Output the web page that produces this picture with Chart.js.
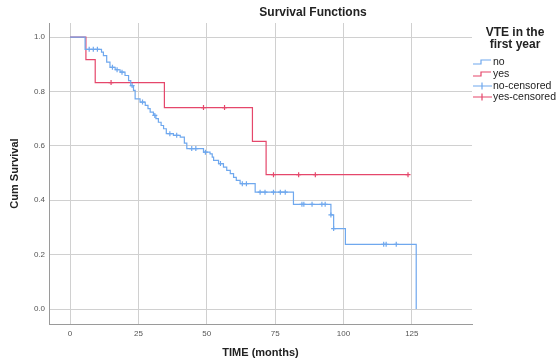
<!DOCTYPE html>
<html lang="en">
<head>
<meta charset="UTF-8">
<title>Survival Functions</title>
<style>
  body { margin: 0; background: #fff; }
  .chart-box { width: 557px; height: 363px; position: relative; }
</style>
</head>
<body>
<div class="chart-box"><canvas id="survChart"></canvas></div>
<script src="https://cdn.jsdelivr.net/npm/chart.js"></script>
<script>
// Kaplan-Meier steps: event time (months) and survival after that event
const noTime = [0, 5.5, 11.5, 12.2, 13.4, 14.6, 16.5, 18.3, 20.1, 21.4, 22.2, 23.2, 23.8, 25.6, 27.5, 28.5, 29.3, 30.5, 31.4, 32.3, 33.3, 34.2, 35.2, 37.8, 40.3, 41.8, 42.7, 48.8, 51.2, 52.0, 52.5, 54.3, 56.1, 57.3, 58.6, 59.8, 60.8, 62.2, 67.7, 81.7, 95.4, 96.4, 100.7, 126.6];
const noSurv = [1.0, 0.955, 0.945, 0.932, 0.908, 0.889, 0.88, 0.871, 0.859, 0.84, 0.822, 0.804, 0.773, 0.761, 0.749, 0.737, 0.724, 0.712, 0.70, 0.687, 0.675, 0.663, 0.645, 0.639, 0.632, 0.61, 0.59, 0.577, 0.571, 0.559, 0.547, 0.535, 0.522, 0.51, 0.498, 0.484, 0.473, 0.461, 0.43, 0.385, 0.346, 0.296, 0.238, 0.0];
const noCensored = [7, 8.5, 10, 15.5, 17.2, 19, 22.7, 26.5, 31, 36.5, 39, 44.5, 46, 49.5, 55, 63, 64.5, 69.5, 71.3, 74.4, 76.9, 78.7, 84.8, 85.5, 88.5, 92.1, 93.3, 95.4, 96.4, 114.7, 115.6, 119.3];

const yesTime = [0, 5.8, 9.2, 34.5, 66.7, 71.7, 123.6];
const yesSurv = [1.0, 0.917, 0.833, 0.741, 0.617, 0.494, 0.494];
const yesCensored = [15, 48.8, 56.5, 74.4, 83.6, 89.7, 123.6];

const xTicks = [0, 25, 50, 75, 100, 125];
const yTicks = [0, 0.2, 0.4, 0.6, 0.8, 1.0];
const seriesNames = ['no', 'yes', 'no-censored', 'yes-censored'];
const legendTitle = ['VTE in the', 'first year'];
const chartTitle = 'Survival Functions';

const blue = '#6fa8ee';
const red = '#e5476b';
const fontFam = '"Liberation Sans", Arial, sans-serif';

function survAt(times, surv, t) {
    let s = surv[0];
    for (let i = 0; i < times.length; i++) {
        if (times[i] <= t) s = surv[i];
    }
    return s;
}

function toPoints(times, surv) {
    return times.map((t, i) => ({ x: t, y: surv[i] }));
}

function censorPoints(times, surv, cens) {
    return cens.map(t => ({ x: t, y: survAt(times, surv, t) }));
}

// title and legend drawn by hand to match the SPSS layout
const decorPlugin = {
    id: 'decor',
    afterDraw(chart) {
        const ctx = chart.ctx;
        ctx.save();
        ctx.fillStyle = '#222';
        ctx.textBaseline = 'middle';

        ctx.font = 'bold 12px ' + fontFam;
        ctx.textAlign = 'center';
        ctx.fillText(chartTitle, 313, 13);

        ctx.font = 'bold 12px ' + fontFam;
        ctx.fillText(legendTitle[0], 515, 33);
        ctx.fillText(legendTitle[1], 515, 45);

        const colors = [blue, red, blue, red];
        const rows = [62, 74, 86, 97];
        ctx.font = '10.5px ' + fontFam;
        ctx.textAlign = 'left';
        ctx.lineWidth = 1.2;
        seriesNames.forEach((name, i) => {
            const y = rows[i];
            ctx.strokeStyle = colors[i];
            ctx.beginPath();
            if (i < 2) {
                ctx.moveTo(473, y + 2);
                ctx.lineTo(481, y + 2);
                ctx.lineTo(481, y - 2);
                ctx.lineTo(491, y - 2);
            } else {
                ctx.moveTo(473, y);
                ctx.lineTo(492, y);
                ctx.moveTo(482, y - 3.5);
                ctx.lineTo(482, y + 3.5);
            }
            ctx.stroke();
            ctx.fillText(name, 493, y);
        });
        ctx.restore();
    }
};

const ctx = document.getElementById('survChart').getContext('2d');
new Chart(ctx, {
    type: 'line',
    data: {
        datasets: [
            {
                label: seriesNames[0],
                data: toPoints(noTime, noSurv),
                borderColor: blue,
                borderWidth: 1.2,
                stepped: true,
                pointRadius: 0,
                fill: false
            },
            {
                label: seriesNames[1],
                data: toPoints(yesTime, yesSurv),
                borderColor: red,
                borderWidth: 1.2,
                stepped: true,
                pointRadius: 0,
                fill: false
            },
            {
                label: seriesNames[2],
                data: censorPoints(noTime, noSurv, noCensored),
                showLine: false,
                pointStyle: 'cross',
                pointRadius: 2.5,
                borderColor: blue,
                pointBorderWidth: 1.2
            },
            {
                label: seriesNames[3],
                data: censorPoints(yesTime, yesSurv, yesCensored),
                showLine: false,
                pointStyle: 'cross',
                pointRadius: 2.5,
                borderColor: red,
                pointBorderWidth: 1.2
            }
        ]
    },
    options: {
        responsive: true,
        maintainAspectRatio: false,
        animation: false,
        layout: { padding: { top: 23, right: 85, left: 0, bottom: 0 } },
        plugins: {
            legend: { display: false },
            title: { display: false },
            tooltip: { enabled: false }
        },
        scales: {
            x: {
                type: 'linear',
                min: -7.7,
                max: 147,
                afterBuildTicks(scale) {
                    scale.ticks = xTicks.map(v => ({ value: v }));
                },
                afterFit(scale) { scale.height = 39; },
                grid: { color: '#d0d0d0', lineWidth: 1, drawTicks: false },
                border: { color: '#9a9a9a', width: 1 },
                ticks: {
                    padding: 5,
                    color: '#555',
                    font: { size: 8, family: fontFam }
                },
                title: {
                    display: true,
                    text: 'TIME (months)',
                    color: '#222',
                    font: { size: 11, weight: 'bold', family: fontFam },
                    padding: { top: 0, bottom: 3 }
                }
            },
            y: {
                min: -0.055,
                max: 1.052,
                afterBuildTicks(scale) {
                    scale.ticks = yTicks.map(v => ({ value: v }));
                },
                afterFit(scale) { scale.width = 49; },
                grid: { color: '#d0d0d0', lineWidth: 1, drawTicks: false },
                border: { color: '#9a9a9a', width: 1 },
                ticks: {
                    padding: 4,
                    color: '#555',
                    font: { size: 8, family: fontFam },
                    callback: v => v.toFixed(1)
                },
                title: {
                    display: true,
                    text: 'Cum Survival',
                    color: '#222',
                    font: { size: 11, weight: 'bold', family: fontFam },
                    padding: { top: 8, bottom: 0 }
                }
            }
        }
    },
    plugins: [decorPlugin]
});
</script>
</body>
</html>
